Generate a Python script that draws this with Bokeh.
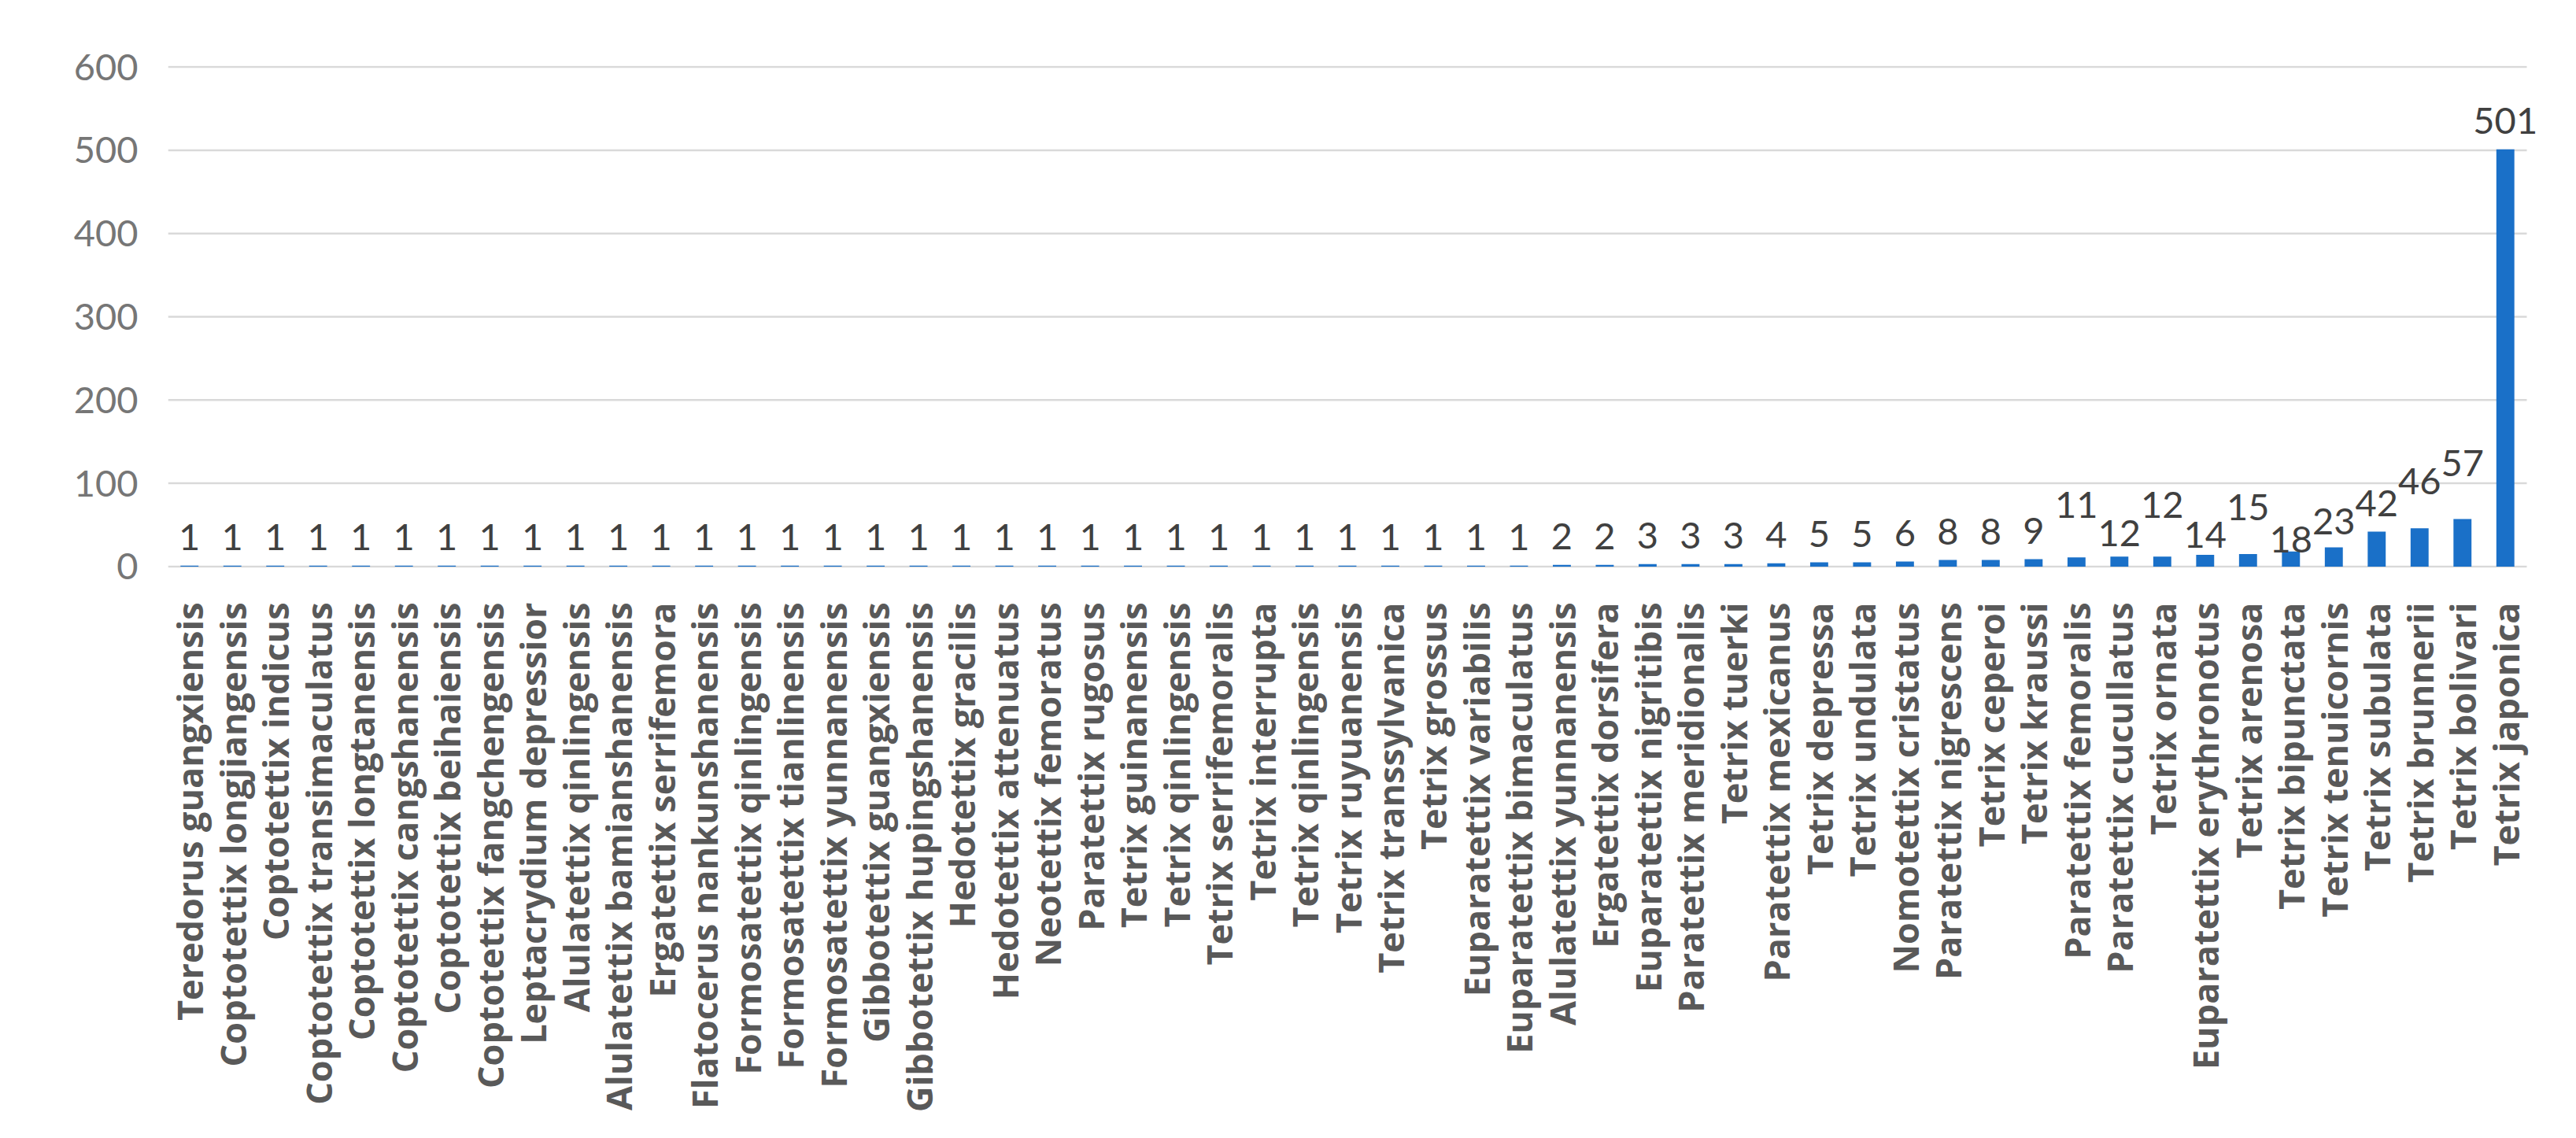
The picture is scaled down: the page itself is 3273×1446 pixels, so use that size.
from bokeh.plotting import figure
from bokeh.models import ColumnDataSource, FixedTicker, Range1d
from bokeh.core.properties import value
from bokeh.embed import file_html
from bokeh.resources import INLINE

species = [
    "Teredorus guangxiensis", "Coptotettix longjiangensis", "Coptotettix indicus",
    "Coptotettix transimaculatus", "Coptotettix longtanensis", "Coptotettix cangshanensis",
    "Coptotettix beihaiensis", "Coptotettix fangchengensis", "Leptacrydium depressior",
    "Alulatettix qinlingensis", "Alulatettix bamianshanensis", "Ergatettix serrifemora",
    "Flatocerus nankunshanensis", "Formosatettix qinlingensis", "Formosatettix tianlinensis",
    "Formosatettix yunnanensis", "Gibbotettix guangxiensis", "Gibbotettix hupingshanensis",
    "Hedotettix gracilis", "Hedotettix attenuatus", "Neotettix femoratus",
    "Paratettix rugosus", "Tetrix guinanensis", "Tetrix qinlingensis",
    "Tetrix serrifemoralis", "Tetrix interrupta", "Tetrix qinlingensis",
    "Tetrix ruyuanensis", "Tetrix transsylvanica", "Tetrix grossus",
    "Euparatettix variabilis", "Euparatettix bimaculatus", "Alulatettix yunnanensis",
    "Ergatettix dorsifera", "Euparatettix nigritibis", "Paratettix meridionalis",
    "Tetrix tuerki", "Paratettix mexicanus", "Tetrix depressa",
    "Tetrix undulata", "Nomotettix cristatus", "Paratettix nigrescens",
    "Tetrix ceperoi", "Tetrix kraussi", "Paratettix femoralis",
    "Paratettix cucullatus", "Tetrix ornata", "Euparatettix erythronotus",
    "Tetrix arenosa", "Tetrix bipunctata", "Tetrix tenuicornis",
    "Tetrix subulata", "Tetrix brunnerii", "Tetrix bolivari", "Tetrix japonica",
]

counts = [
    1, 1, 1, 1, 1, 1, 1, 1, 1, 1,
    1, 1, 1, 1, 1, 1, 1, 1, 1, 1,
    1, 1, 1, 1, 1, 1, 1, 1, 1, 1,
    1, 1, 2, 2, 3, 3, 3, 4, 5, 5,
    6, 8, 8, 9, 11, 12, 12, 14, 15, 18,
    23, 42, 46, 57, 501,
]

y_ticks = [0, 100, 200, 300, 400, 500, 600]

# label lift above bar top (screen px), style only: mimics the staggered data labels
label_lift = [36] * 44 + [67, 30, 66, 26, 60, 15, 33, 36, 60, 71, 36]

n = len(species)
idx = list(range(1, n + 1))
src = ColumnDataSource(dict(
    x=idx,
    top=counts,
    lbl=[str(c) for c in counts],
    yoff=[-l for l in label_lift],
))

px_per_cat = 2997 / n
extra_right = 30
p = figure(
    width=3255, height=1430,
    output_backend="svg", toolbar_location=None,
    x_range=Range1d(0.5, n + 0.5 + extra_right / px_per_cat),
    y_range=Range1d(-1.5, 601.5),
    min_border_left=213, min_border_right=45 - extra_right,
    min_border_top=83, min_border_bottom=709,
)
p.outline_line_color = None
p.background_fill_color = "white"
p.border_fill_color = "white"

# horizontal gridlines, only across the category area
p.xgrid.grid_line_color = None
p.ygrid.grid_line_color = None
p.segment(x0=[0.5] * len(y_ticks), x1=[n + 0.5] * len(y_ticks),
          y0=y_ticks, y1=y_ticks, line_color="#D9D9D9", line_width=2.5)

p.vbar(x="x", top="top", width=0.42, bottom=0, source=src,
       fill_color="#1A70C8", line_color=None)

p.text(x="x", y="top", text="lbl", source=src, y_offset="yoff",
       text_align="center", text_baseline="alphabetic",
       text_font=value("Lato"), text_font_size="47px", text_color="#404040")

# y axis
p.yaxis.ticker = FixedTicker(ticks=y_ticks)
p.yaxis.axis_line_color = None
p.yaxis.major_tick_line_color = None
p.yaxis.minor_tick_line_color = None
p.yaxis.major_tick_out = 0
p.yaxis.major_tick_in = 0
p.yaxis.major_label_standoff = 38
p.yaxis.major_label_text_font = "Lato"
p.yaxis.major_label_text_font_size = "47px"
p.yaxis.major_label_text_color = "#767676"

# x axis
p.xaxis.ticker = FixedTicker(ticks=idx)
p.xaxis.major_label_overrides = {i: s for i, s in zip(idx, species)}
p.xaxis.major_label_orientation = 3.14159265 / 2
p.xaxis.axis_line_color = None
p.xaxis.major_tick_line_color = None
p.xaxis.minor_tick_line_color = None
p.xaxis.major_tick_out = 0
p.xaxis.major_tick_in = 0
p.xaxis.major_label_standoff = 44
p.xaxis.major_label_text_font = "Open Sans"
p.xaxis.major_label_text_font_style = "bold"
p.xaxis.major_label_text_font_size = "45px"
p.xaxis.major_label_text_color = "#595959"

open("out.html", "w").write(file_html(p, INLINE))
